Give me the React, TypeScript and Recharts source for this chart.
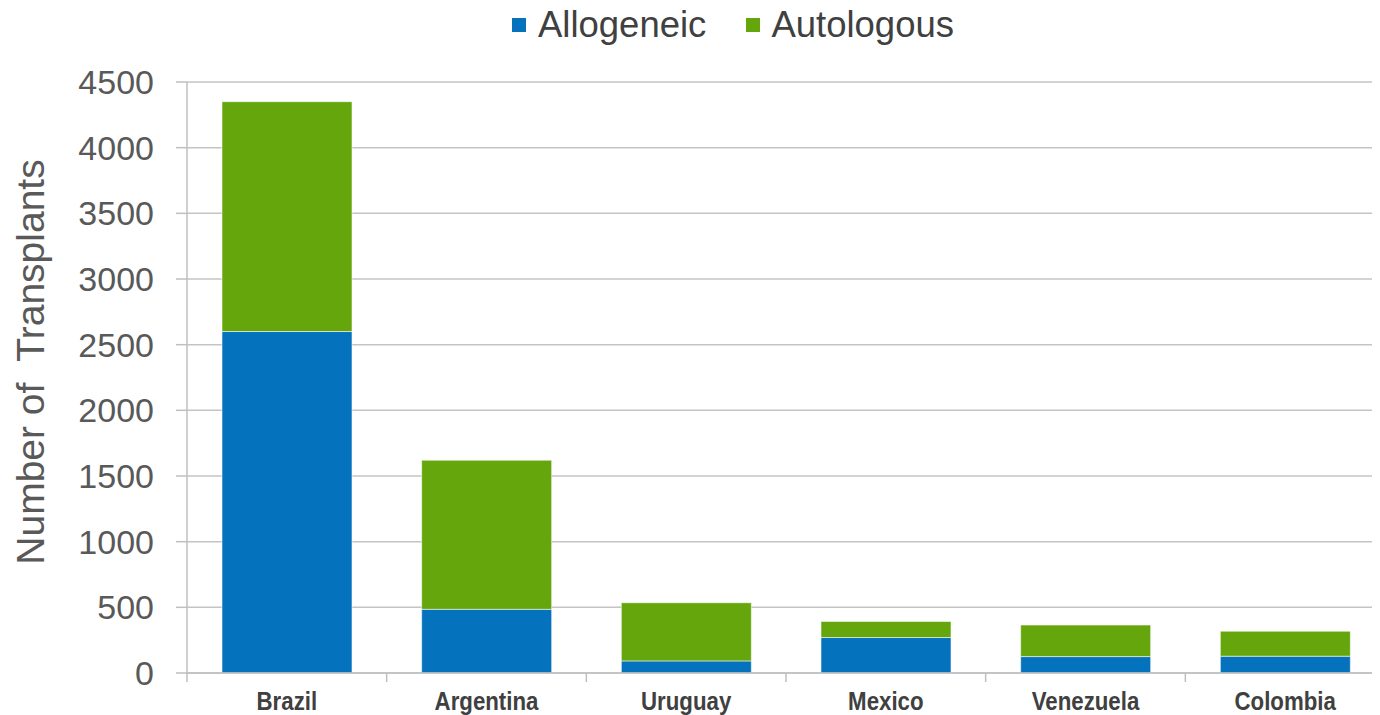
import React from 'react';
import { BarChart, Bar, XAxis, YAxis, CartesianGrid, Legend } from 'recharts';

const countries = ['Brazil', 'Argentina', 'Uruguay', 'Mexico', 'Venezuela', 'Colombia'];
const allogeneic = [2600, 485, 92, 270, 125, 128];
const autologous = [1750, 1135, 443, 122, 240, 190];
const yTicks = [0, 500, 1000, 1500, 2000, 2500, 3000, 3500, 4000, 4500];

const data = countries.map((c, i) => ({ country: c, Allogeneic: allogeneic[i], Autologous: autologous[i] }));

const BLUE = '#0572BD';
const GREEN = '#64A60B';
const CHART_W = 1390;
const Y_AXIS_W = 187;
const MARGIN_R = 5;
const BAND = (CHART_W - Y_AXIS_W - MARGIN_R) / countries.length;

const XTick = (props: any) => {
  const { x, y, payload } = props;
  return (
    <g>
      <line x1={x - BAND / 2} x2={x - BAND / 2} y1={y} y2={y + 9} stroke="#bfbfbf" strokeWidth={1.5} />
      <text
        transform={`translate(${x}, ${y + 37}) scale(0.84, 1)`}
        textAnchor="middle"
        fontFamily="'Liberation Sans', Arial, sans-serif"
        fontWeight="bold"
        fontSize={26.5}
        fill="#404040"
      >
        {payload.value}
      </text>
    </g>
  );
};

const LegendContent = () => (
  <div
    style={{
      display: 'flex',
      justifyContent: 'center',
      alignItems: 'center',
      fontFamily: "'Liberation Sans', Arial, sans-serif",
      fontSize: 36.5,
      color: '#404040',
      height: 50,
      paddingLeft: 86,
      boxSizing: 'border-box',
    }}
  >
    <span style={{ display: 'inline-block', width: 14, height: 14, background: BLUE, marginRight: 12 }} />
    <span style={{ marginRight: 40 }}>Allogeneic</span>
    <span style={{ display: 'inline-block', width: 14, height: 14, background: GREEN, marginRight: 11 }} />
    <span>Autologous</span>
  </div>
);

const YLabel = () => (
  <text
    x={30}
    y={362}
    transform="rotate(-90 30 362)"
    textAnchor="middle"
    dominantBaseline="central"
    fontFamily="'Liberation Sans', Arial, sans-serif"
    fontSize={39}
    fill="#595959"
    style={{ whiteSpace: 'pre' }}
  >
    {'Number of  Transplants'}
  </text>
);

export default function App() {
  return (
    <div style={{ marginLeft: -8, marginTop: -8, width: 1380, height: 715, overflow: 'hidden', background: '#fff' }}>
      <BarChart
        width={CHART_W}
        height={715}
        data={data}
        margin={{ top: 82, right: MARGIN_R, bottom: 0, left: 0 }}
        barSize={130}
      >
        <CartesianGrid vertical={false} stroke="#c4c4c4" strokeWidth={1.5} />
        <Legend
          verticalAlign="middle"
          align="center"
          layout="horizontal"
          wrapperStyle={{ top: 0, left: 0, width: 1380, height: 50 }}
          content={<LegendContent />}
        />
        <XAxis
          dataKey="country"
          height={42}
          tickLine={false}
          tickSize={0}
          tickMargin={0}
          axisLine={{ stroke: '#bfbfbf', strokeWidth: 1.5 }}
          tick={<XTick />}
          interval={0}
        />
        <YAxis
          width={Y_AXIS_W}
          domain={[0, 4500]}
          ticks={yTicks}
          interval={0}
          tickSize={11}
          tickMargin={22}
          axisLine={{ stroke: '#bfbfbf', strokeWidth: 1.5 }}
          tickLine={{ stroke: '#bfbfbf', strokeWidth: 1.5 }}
          tick={{ fontSize: 34, fill: '#595959', fontFamily: "'Liberation Sans', Arial, sans-serif" }}
          label={<YLabel />}
        />
        <Bar dataKey="Allogeneic" stackId="a" fill={BLUE} stroke="rgba(255,255,255,0.55)" strokeWidth={1} isAnimationActive={false} />
        <Bar dataKey="Autologous" stackId="a" fill={GREEN} stroke="rgba(255,255,255,0.55)" strokeWidth={1} isAnimationActive={false} />
      </BarChart>
    </div>
  );
}
